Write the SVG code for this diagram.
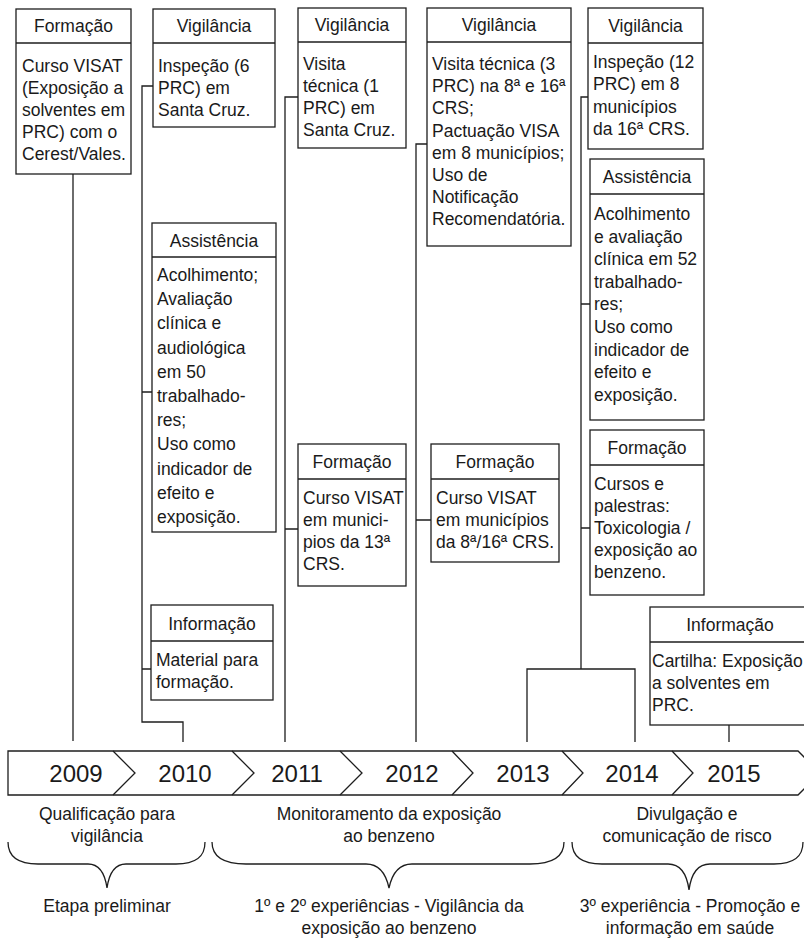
<svg xmlns="http://www.w3.org/2000/svg" width="804" height="943" viewBox="0 0 804 943">
<style>
.bg{fill:#fff}
.box{fill:#fff;stroke:#1e1e1e;stroke-width:1.3}
.ln{fill:none;stroke:#1e1e1e;stroke-width:1.3}
.t{font-family:"Liberation Sans",Arial,sans-serif;font-size:17.5px;fill:#1a1a1a}
.m{text-anchor:middle}
.yr{font-family:"Liberation Sans",Arial,sans-serif;font-size:24px;fill:#1a1a1a;text-anchor:middle}
</style>
<rect class="bg" x="0" y="0" width="804" height="943"/>

<g id="connectors">
<path class="ln" d="M73,174 V741"/>
<path class="ln" d="M153,86 H142 V722 H183 V742 M142,392 H152 M142,669 H151"/>
<path class="ln" d="M298,97 H285 V742 M285,529 H298"/>
<path class="ln" d="M427,144 H416 V742 M416,520 H431"/>
<path class="ln" d="M588,97 H581 V669 M581,304 H590 M581,528 H590 M527,742 V669 H635 V742"/>
<path class="ln" d="M729,725 V742"/>
</g>

<g id="n2009-formacao">
<rect class="box" x="16" y="9" width="115" height="165"/>
<line class="ln" x1="16" y1="43" x2="131" y2="43"/>
<text class="t m" x="73.5" y="32">Formação</text>
<text class="t" x="22" y="72">Curso VISAT</text>
<text class="t" x="22" y="94">(Exposição a</text>
<text class="t" x="22" y="116">solventes em</text>
<text class="t" x="22" y="138">PRC) com o</text>
<text class="t" x="22" y="160">Cerest/Vales.</text>
</g>

<g id="n2010-vigilancia">
<rect class="box" x="153" y="9" width="122" height="118"/>
<line class="ln" x1="153" y1="43" x2="275" y2="43"/>
<text class="t m" x="214" y="32">Vigilância</text>
<text class="t" x="158" y="72">Inspeção (6</text>
<text class="t" x="158" y="94">PRC) em</text>
<text class="t" x="158" y="116">Santa Cruz.</text>
</g>

<g id="n2010-assistencia">
<rect class="box" x="152" y="223" width="124" height="309"/>
<line class="ln" x1="152" y1="257" x2="276" y2="257"/>
<text class="t m" x="214" y="247">Assistência</text>
<text class="t" x="157" y="281">Acolhimento;</text>
<text class="t" x="157" y="305.2">Avaliação</text>
<text class="t" x="157" y="329.4">clínica e</text>
<text class="t" x="157" y="353.6">audiológica</text>
<text class="t" x="157" y="377.8">em 50</text>
<text class="t" x="157" y="402">trabalhado-</text>
<text class="t" x="157" y="426.2">res;</text>
<text class="t" x="157" y="450.4">Uso como</text>
<text class="t" x="157" y="474.6">indicador de</text>
<text class="t" x="157" y="498.8">efeito e</text>
<text class="t" x="157" y="523">exposição.</text>
</g>

<g id="n2010-informacao">
<rect class="box" x="151" y="605" width="122" height="95"/>
<line class="ln" x1="151" y1="641" x2="273" y2="641"/>
<text class="t m" x="212" y="630">Informação</text>
<text class="t" x="156" y="666">Material para</text>
<text class="t" x="156" y="688">formação.</text>
</g>

<g id="n2011-vigilancia">
<rect class="box" x="298" y="8" width="108" height="140"/>
<line class="ln" x1="298" y1="42" x2="406" y2="42"/>
<text class="t m" x="352" y="31">Vigilância</text>
<text class="t" x="303" y="70">Visita</text>
<text class="t" x="303" y="92">técnica (1</text>
<text class="t" x="303" y="114">PRC) em</text>
<text class="t" x="303" y="136">Santa Cruz.</text>
</g>

<g id="n2011-formacao">
<rect class="box" x="298" y="444" width="108" height="142"/>
<line class="ln" x1="298" y1="479" x2="406" y2="479"/>
<text class="t m" x="352" y="468">Formação</text>
<text class="t" x="303" y="504">Curso VISAT</text>
<text class="t" x="303" y="526">em munici-</text>
<text class="t" x="303" y="548">pios da 13ª</text>
<text class="t" x="303" y="570">CRS.</text>
</g>

<g id="n2012-vigilancia">
<rect class="box" x="427" y="8" width="144" height="238"/>
<line class="ln" x1="427" y1="42" x2="571" y2="42"/>
<text class="t m" x="499" y="31">Vigilância</text>
<text class="t" x="432" y="70">Visita técnica (3</text>
<text class="t" x="432" y="92.2">PRC) na 8ª e 16ª</text>
<text class="t" x="432" y="114.4">CRS;</text>
<text class="t" x="432" y="136.6">Pactuação VISA</text>
<text class="t" x="432" y="158.8">em 8 municípios;</text>
<text class="t" x="432" y="181">Uso de</text>
<text class="t" x="432" y="203.2">Notificação</text>
<text class="t" x="432" y="225.4">Recomendatória.</text>
</g>

<g id="n2012-formacao">
<rect class="box" x="431" y="444" width="128" height="118"/>
<line class="ln" x1="431" y1="479" x2="559" y2="479"/>
<text class="t m" x="495" y="468">Formação</text>
<text class="t" x="436" y="504">Curso VISAT</text>
<text class="t" x="436" y="526">em municípios</text>
<text class="t" x="436" y="548">da 8ª/16ª CRS.</text>
</g>

<g id="n2014-vigilancia">
<rect class="box" x="588" y="8" width="115" height="141"/>
<line class="ln" x1="588" y1="43" x2="703" y2="43"/>
<text class="t m" x="645.5" y="32">Vigilância</text>
<text class="t" x="593" y="68">Inspeção (12</text>
<text class="t" x="593" y="90">PRC) em 8</text>
<text class="t" x="593" y="113">municípios</text>
<text class="t" x="593" y="135">da 16ª CRS.</text>
</g>

<g id="n2014-assistencia">
<rect class="box" x="590" y="159" width="114" height="261"/>
<line class="ln" x1="590" y1="194" x2="704" y2="194"/>
<text class="t m" x="647" y="183">Assistência</text>
<text class="t" x="594" y="220">Acolhimento</text>
<text class="t" x="594" y="242.6">e avaliação</text>
<text class="t" x="594" y="265.2">clínica em 52</text>
<text class="t" x="594" y="287.8">trabalhado-</text>
<text class="t" x="594" y="310.4">res;</text>
<text class="t" x="594" y="333">Uso como</text>
<text class="t" x="594" y="355.6">indicador de</text>
<text class="t" x="594" y="378.2">efeito e</text>
<text class="t" x="594" y="400.8">exposição.</text>
</g>

<g id="n2014-formacao">
<rect class="box" x="590" y="430" width="114" height="165"/>
<line class="ln" x1="590" y1="465" x2="704" y2="465"/>
<text class="t m" x="647" y="454">Formação</text>
<text class="t" x="594" y="490">Cursos e</text>
<text class="t" x="594" y="512">palestras:</text>
<text class="t" x="594" y="534">Toxicologia /</text>
<text class="t" x="594" y="556">exposição ao</text>
<text class="t" x="594" y="578">benzeno.</text>
</g>

<g id="n2015-informacao">
<rect class="box" x="650" y="607" width="160" height="118"/>
<line class="ln" x1="650" y1="642" x2="810" y2="642"/>
<text class="t m" x="730" y="631">Informação</text>
<text class="t" x="652" y="667">Cartilha: Exposição</text>
<text class="t" x="652" y="689">a solventes em</text>
<text class="t" x="652" y="711">PRC.</text>
</g>

<g id="timeline">
<path class="box" d="M8,751 H798 L820,773 L798,795 H8 Z"/>
<path class="ln" d="M113,751 L135,773 L113,795 M232,751 L254,773 L232,795 M340,751 L362,773 L340,795 M452,751 L473,773 L452,795 M562,751 L583,773 L562,795 M672,751 L693,773 L672,795"/>
<text class="yr" x="76" y="782">2009</text>
<text class="yr" x="185" y="782">2010</text>
<text class="yr" x="297" y="782">2011</text>
<text class="yr" x="412" y="782">2012</text>
<text class="yr" x="523" y="782">2013</text>
<text class="yr" x="632" y="782">2014</text>
<text class="yr" x="734" y="782">2015</text>
</g>

<g id="phases">
<text class="t m" x="107" y="820">Qualificação para</text>
<text class="t m" x="107" y="842">vigilância</text>
<text class="t m" x="389" y="820">Monitoramento da exposição</text>
<text class="t m" x="389" y="842">ao benzeno</text>
<text class="t m" x="687" y="820">Divulgação e</text>
<text class="t m" x="687" y="842">comunicação de risco</text>
</g>

<g id="braces">
<path class="ln" d="M8,842 C8,857 18,864 38,864 H88 C100,864 105,874 107,888 C109,874 114,864 126,864 H176 C196,864 205,857 205,842"/>
<path class="ln" d="M212,842 C212,857 224,864 246,864 H366 C380,864 386,874 389,888 C392,874 398,864 412,864 H530 C552,864 564,857 564,842"/>
<path class="ln" d="M572,842 C572,857 582,864 602,864 H668 C681,864 687,875 689,890 C691,875 697,864 710,864 H774 C794,864 803,857 803,842"/>
</g>

<g id="stages">
<text class="t m" x="107" y="912">Etapa preliminar</text>
<text class="t m" x="389" y="912">1º e 2º experiências - Vigilância da</text>
<text class="t m" x="389" y="934">exposição ao benzeno</text>
<text class="t m" x="690" y="912">3º experiência - Promoção e</text>
<text class="t m" x="690" y="934">informação em saúde</text>
</g>
</svg>
